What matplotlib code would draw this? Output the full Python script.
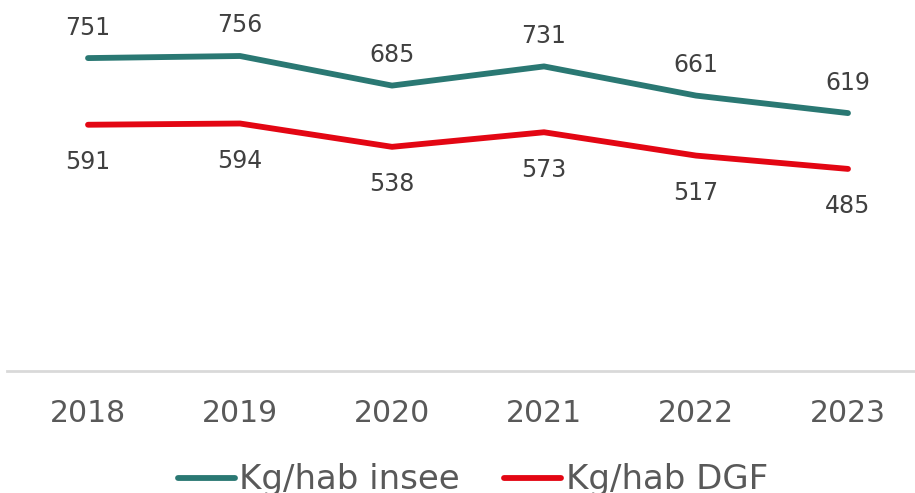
import matplotlib.pyplot as plt

# data
years = ['2018', '2019', '2020', '2021', '2022', '2023']
kg_insee = [751, 756, 685, 731, 661, 619]
kg_dgf = [591, 594, 538, 573, 517, 485]

teal = '#2A7873'
red = '#E30613'
label_col = '#404040'
tick_col = '#595959'

W, H = 915, 493

fig = plt.figure(figsize=(W / 100, H / 100), dpi=100)
ax = fig.add_axes([7 / W, 122 / H, 917 / W, 375 / H])

x = range(len(years))
ax.plot(x, kg_insee, color=teal, lw=4.2, solid_capstyle='round', label='Kg/hab insee')
ax.plot(x, kg_dgf, color=red, lw=4.2, solid_capstyle='round', label='Kg/hab DGF')

for i, v in enumerate(kg_insee):
    ax.annotate(str(v), (i, v), xytext=(0, 22), textcoords='offset points',
                ha='center', va='center', fontsize=17, color=label_col)
for i, v in enumerate(kg_dgf):
    ax.annotate(str(v), (i, v), xytext=(0, -27), textcoords='offset points',
                ha='center', va='center', fontsize=17, color=label_col)

ax.set_xlim(-0.533, 5.5)
ax.set_ylim(0, 900)
ax.set_xticks(list(x))
ax.set_xticklabels(years, fontsize=21.5, color=tick_col)
ax.tick_params(axis='x', length=0, pad=20)
ax.set_yticks([])
for s in ['top', 'right', 'left']:
    ax.spines[s].set_visible(False)
ax.spines['bottom'].set_color('#D9D9D9')
ax.spines['bottom'].set_linewidth(2)

# legend at the bottom (partly cut off, as in the original)
leg = fig.legend(loc='center', bbox_to_anchor=(473 / W, 13 / H), ncol=2,
                 frameon=False, fontsize=24.5, handlelength=1.68,
                 handletextpad=0.12, columnspacing=1.3, borderpad=0)
for t in leg.get_texts():
    t.set_color(tick_col)

fig.savefig('out.png', dpi=100)
